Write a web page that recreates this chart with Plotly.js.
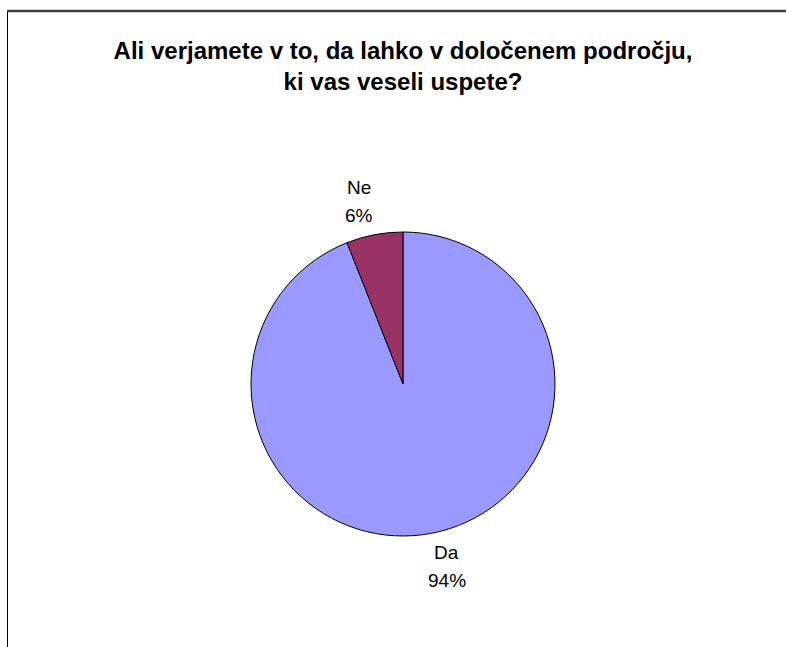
<!DOCTYPE html>
<html>
<head>
<meta charset="utf-8">
<script src="https://cdn.plot.ly/plotly-3.0.1.min.js"></script>
<style>html,body{margin:0;padding:0;background:#fff;overflow:hidden}</style>
</head>
<body>
<div id="chart" style="width:786px;height:647px"></div>
<script>
const categories = ["Da", "Ne"];
const values = [94, 6];
const colors = ["#9999FF", "#993366"];
const titleText = "Ali verjamete v to, da lahko v določenem področju,<br>ki vas veseli uspete?";

const W = 786, H = 647;
const cx = 403, cy = 384, r = 152;
const labelFont = {family: "Liberation Sans, Arial, sans-serif", size: 19, color: "#000"};

const trace = {
  type: "pie",
  labels: categories,
  values: values,
  sort: false,
  direction: "clockwise",
  rotation: 0,
  marker: {colors: colors, line: {color: "#000", width: 1}},
  textinfo: "none",
  hoverinfo: "none",
  showlegend: false,
  automargin: false,
  domain: {x: [(cx - r) / W, (cx + r) / W], y: [(H - cy - r) / H, (H - cy + r) / H]}
};

// Data labels placed outside each slice, derived from the slice mid-angles
const total = values.reduce((a, b) => a + b, 0);
const annotations = [];
let cum = 0;
const gap = 7, lineGap = 28, sideShift = 14;
values.forEach((v, i) => {
  const mid = (cum + v / 2) / total * 2 * Math.PI;
  cum += v;
  const px = cx + (r + gap) * Math.sin(mid);
  const py = cy - (r + gap) * Math.cos(mid);
  const pct = Math.round(v / total * 100) + "%";
  const xs = Math.sin(mid) < 0 ? -sideShift : sideShift;
  const top = Math.cos(mid) > 0;
  const base = {xref: "paper", yref: "paper", x: px / W, y: 1 - py / H, showarrow: false,
    font: labelFont, xanchor: "center", xshift: xs};
  if (top) {
    annotations.push(Object.assign({}, base, {text: pct, yanchor: "bottom"}));
    annotations.push(Object.assign({}, base, {text: categories[i], yanchor: "bottom", yshift: lineGap}));
  } else {
    annotations.push(Object.assign({}, base, {text: categories[i], yanchor: "top"}));
    annotations.push(Object.assign({}, base, {text: pct, yanchor: "top", yshift: -lineGap}));
  }
});

const layout = {
  width: W, height: H,
  margin: {l: 0, r: 0, t: 0, b: 0},
  paper_bgcolor: "#fff",
  title: {
    text: titleText,
    font: {family: "Liberation Sans, Arial, sans-serif", size: 24, color: "#000", weight: "bold"},
    x: 403 / W, xanchor: "center",
    y: 1 - 59 / H, yanchor: "top"
  },
  annotations: annotations,
  shapes: [
    {type: "line", xref: "paper", yref: "paper", x0: 7.5 / W, x1: 7.5 / W, y0: -0.1, y1: 1 - 10.5 / H, line: {color: "#000", width: 1}},
    {type: "line", xref: "paper", yref: "paper", x0: 7 / W, x1: 1.1, y0: 1 - 11 / H, y1: 1 - 11 / H, line: {color: "#404040", width: 2.5}}
  ]
};

Plotly.newPlot("chart", [trace], layout, {staticPlot: true, displayModeBar: false});
</script>
</body>
</html>
